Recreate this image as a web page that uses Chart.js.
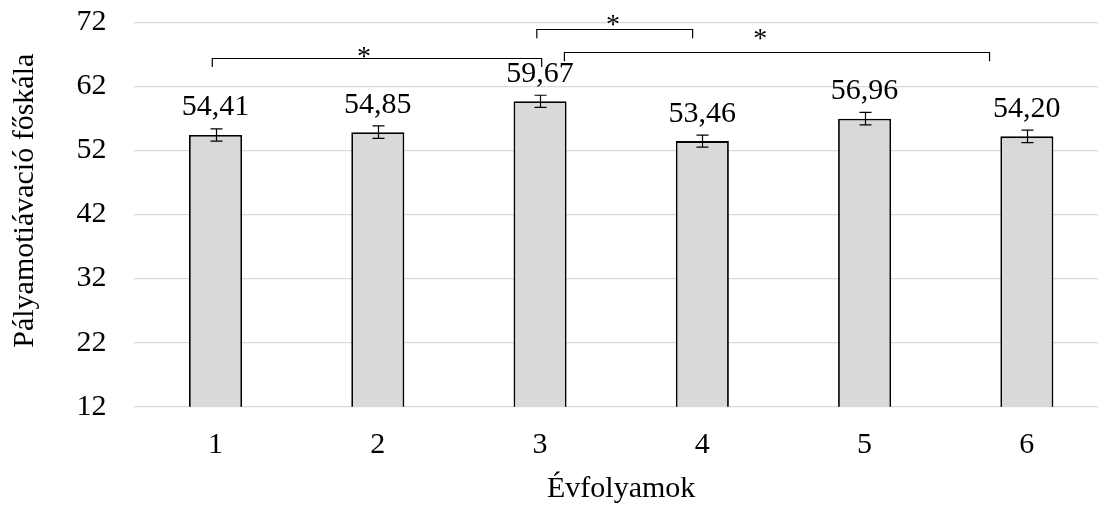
<!DOCTYPE html>
<html lang="hu">
<head>
<meta charset="utf-8">
<title>Pályamotiváció évfolyamonként</title>
<script src="https://cdn.jsdelivr.net/npm/chart.js@4.4.1/dist/chart.umd.min.js"></script>
<style>
  html, body { margin: 0; padding: 0; background: #ffffff; overflow: hidden; }
  #wrap { position: relative; width: 1108px; height: 509px; }
</style>
</head>
<body>
<div id="wrap"><canvas id="chart"></canvas></div>
<script>
// Grades on the x axis and the mean score of each grade
const categories = ['1', '2', '3', '4', '5', '6'];
const means = [54.41, 54.85, 59.67, 53.46, 56.96, 54.20];
// Standard error of each mean (drawn as error bars)
const errors = [0.96, 0.97, 0.94, 0.94, 0.98, 0.97];
// Value axis ticks
const yTicks = [12, 22, 32, 42, 52, 62, 72];
// Significant pairwise differences (category indices)
const sigPairs = [[0, 2], [2, 3], [2, 5]];

const yTitle = 'Pályamotiávació főskála';
const xTitle = 'Évfolyamok';

const FONT = '"Liberation Serif", "Times New Roman", serif';
const INK = '#000000';

// Where each bracket sits: ends in category units relative to the pair, heights in axis units
const bracketLayout = [
  { dFrom: -0.02, dTo: 0.01, line: 66.38, leg: 65.02, starX: 0.915, starY: 67.28 },
  { dFrom: -0.02, dTo: -0.06, line: 70.90, leg: 69.50, starX: 2.449, starY: 72.23 },
  { dFrom: 0.15, dTo: -0.23, line: 67.41, leg: 65.91, starX: 3.357, starY: 70.12 }
];

// Error bars, value labels, significance brackets and the rotated y title
const overlayPlugin = {
  id: 'overlay',
  afterDraw(chart) {
    const ctx = chart.ctx;
    const xs = chart.scales.x;
    const ys = chart.scales.y;
    const meta = chart.getDatasetMeta(0);
    ctx.save();

    // error bars
    ctx.strokeStyle = INK;
    ctx.lineWidth = 1.2;
    meta.data.forEach((bar, i) => {
      const x = Math.round(bar.x) + 0.5;
      const top = ys.getPixelForValue(means[i] + errors[i]);
      const bot = ys.getPixelForValue(means[i] - errors[i]);
      ctx.beginPath();
      ctx.moveTo(x, top); ctx.lineTo(x, bot);
      ctx.moveTo(x - 6, top); ctx.lineTo(x + 6, top);
      ctx.moveTo(x - 6, bot); ctx.lineTo(x + 6, bot);
      ctx.stroke();
    });

    // value labels
    ctx.fillStyle = INK;
    ctx.font = '30px ' + FONT;
    ctx.textAlign = 'center';
    ctx.textBaseline = 'alphabetic';
    meta.data.forEach((bar, i) => {
      const label = means[i].toFixed(2).replace('.', ',');
      ctx.fillText(label, bar.x, ys.getPixelForValue(means[i]) - 19.5);
    });

    // significance brackets
    ctx.lineWidth = 1.2;
    sigPairs.forEach((pair, k) => {
      const b = bracketLayout[k];
      const x1 = xs.getPixelForValue(pair[0] + b.dFrom);
      const x2 = xs.getPixelForValue(pair[1] + b.dTo);
      const yl = Math.round(ys.getPixelForValue(b.line)) + 0.5;
      const yg = ys.getPixelForValue(b.leg);
      ctx.beginPath();
      ctx.moveTo(x1, yg); ctx.lineTo(x1, yl); ctx.lineTo(x2, yl); ctx.lineTo(x2, yg);
      ctx.stroke();

      ctx.font = '28px ' + FONT;
      const m = ctx.measureText('*');
      const cy = ys.getPixelForValue(b.starY);
      const base = cy + (m.actualBoundingBoxAscent - m.actualBoundingBoxDescent) / 2;
      ctx.fillText('*', xs.getPixelForValue(b.starX), base);
    });

    // y axis title
    ctx.font = '30px ' + FONT;
    ctx.translate(33, 200.7);
    ctx.rotate(-Math.PI / 2);
    ctx.textAlign = 'center';
    ctx.textBaseline = 'alphabetic';
    ctx.fillText(yTitle, 0, 0);
    ctx.restore();
  }
};

new Chart(document.getElementById('chart'), {
  type: 'bar',
  data: {
    labels: categories,
    datasets: [{
      data: means,
      backgroundColor: '#d9d9d9',
      borderColor: '#000000',
      borderWidth: 1.8,
      barPercentage: 0.327,
      categoryPercentage: 1.0
    }]
  },
  options: {
    responsive: true,
    maintainAspectRatio: false,
    animation: false,
    devicePixelRatio: 1,
    layout: { padding: { top: 22.3, left: 0, right: 0, bottom: 0 } },
    plugins: {
      legend: { display: false },
      tooltip: { enabled: false },
      title: { display: false }
    },
    scales: {
      x: {
        grid: { display: false, drawTicks: false },
        border: { display: false },
        ticks: {
          color: INK,
          padding: 20,
          font: { family: FONT, size: 30 }
        },
        title: {
          display: true,
          text: xTitle,
          color: INK,
          font: { family: FONT, size: 30 },
          padding: { top: 0, bottom: 2 }
        },
        afterFit(scale) {
          scale.height = 102.3;
          scale.paddingLeft = 0;
          scale.paddingRight = 0;
        }
      },
      y: {
        min: 12,
        max: 72,
        grid: { color: '#d9d9d9', lineWidth: 1.3, drawTicks: false },
        border: { display: false },
        ticks: {
          color: INK,
          padding: 28,
          font: { family: FONT, size: 30 }
        },
        afterBuildTicks(scale) { scale.ticks = yTicks.map(v => ({ value: v })); },
        afterFit(scale) {
          scale.width = 134.4;
          scale.paddingTop = 0;
          scale.paddingBottom = 0;
        }
      }
    }
  },
  plugins: [overlayPlugin]
});
</script>
</body>
</html>
